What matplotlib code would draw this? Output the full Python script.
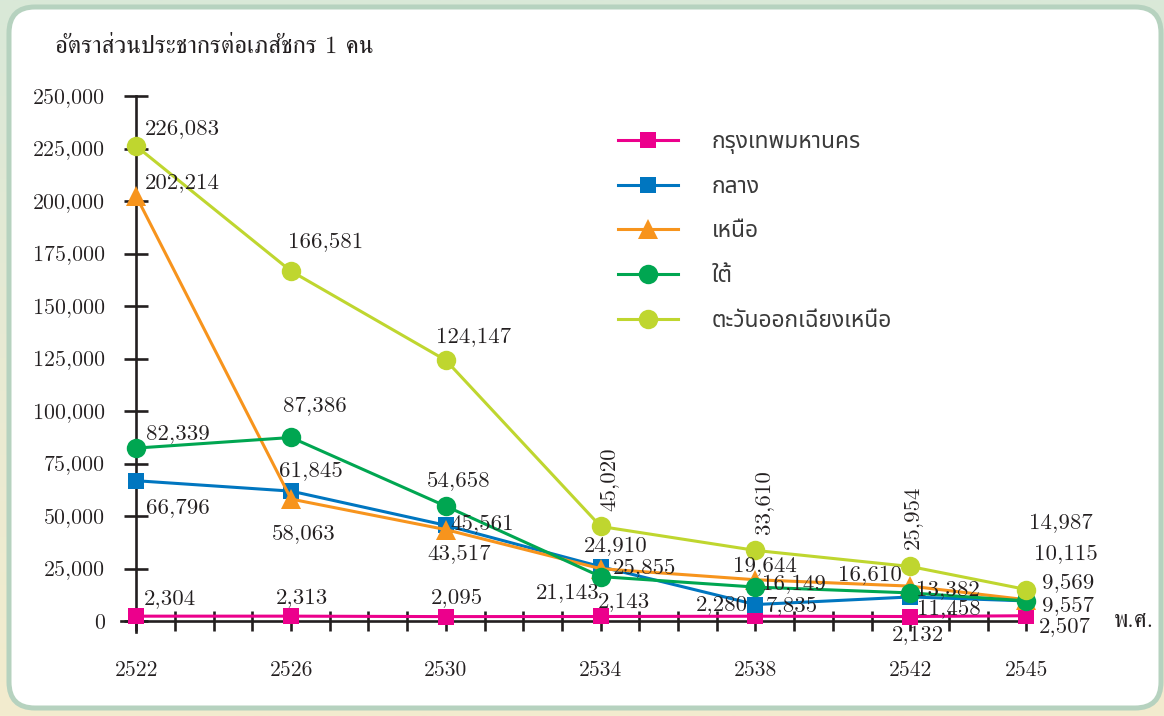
import matplotlib
matplotlib.use("Agg")
import numpy as np
import matplotlib.pyplot as plt
from matplotlib.patches import FancyBboxPatch
from matplotlib.lines import Line2D
from matplotlib.colors import LinearSegmentedColormap
from matplotlib.font_manager import FontProperties
from matplotlib.ticker import FuncFormatter

# ข้อมูล: อัตราส่วนประชากรต่อเภสัชกร 1 คน แยกตามภาค
years = [2522, 2526, 2530, 2534, 2538, 2542, 2545]
bangkok = [2304, 2313, 2095, 2143, 2280, 2132, 2507]
central = [66796, 61845, 45561, 25855, 7835, 11458, 9557]
north = [202214, 58063, 43517, 24910, 19644, 16610, 10115]
south = [82339, 87386, 54658, 21143, 16149, 13382, 9569]
northeast = [226083, 166581, 124147, 45020, 33610, 25954, 14987]
region_names = ["กรุงเทพมหานคร", "กลาง", "เหนือ", "ใต้", "ตะวันออกเฉียงเหนือ"]
y_title = "อัตราส่วนประชากรต่อเภสัชกร 1 คน"
x_unit = "พ.ศ."

# ตำแหน่งป้ายตัวเลข (เลื่อนจากจุด เป็นพิกเซล)
off_bkk = [(34, 19), (11, 20), (11, 20), (23, 16), (-34, 13), (8, -17), (38, -10)]
off_central = [(42, -26), (20, 22), (36, 3), (44, 0), (36, 0), (39, -10), (42, -3)]
off_north = [(46, 15), (13, -33), (13, -23), (15, 24), (9, 15), (-40, 13), (39, 47)]
off_south = [(42, 16), (24, 33), (13, 27), (-33, -15), (38, 5), (38, 5), (42, 20)]
off_ne = [(46, 19), (35, 31), (28, 25), (9, 47), (9, 48), (3, 49), (34, 68)]
rot_ne = [0, 0, 0, 90, 90, 90, 0]

ink = "#231f20"
num_font = ["Latin Modern Roman", "FreeSerif", "DejaVu Serif"]
thai_serif = ["Latin Modern Roman", "FreeSerif", "DejaVu Serif"]
thai_sans = ["Noto Sans Thai", "DejaVu Sans"]
plt.rcParams["font.family"] = num_font

fig = plt.figure(figsize=(11.64, 7.16), dpi=100)

# พื้นหลัง + กรอบมุมมน
bg = fig.add_axes([0, 0, 1, 1], zorder=-10)
bg.set_xlim(0, 1164)
bg.set_ylim(716, 0)
bg.axis("off")
cmap = LinearSegmentedColormap.from_list("bg", ["#d9e8d8", "#e8ead3", "#f3ecce"])
bg.imshow(np.linspace(0, 1, 256)[:, None], aspect="auto", cmap=cmap,
          extent=[0, 1164, 716, 0])
panel = FancyBboxPatch((9, 7), 1152, 701, boxstyle="round,pad=0,rounding_size=26",
                       facecolor="white", edgecolor="#b6d2bf", linewidth=3.6)
bg.add_patch(panel)

ax = fig.add_axes([121 / 1164, 84 / 716, 905.4 / 1164, 536 / 716])
ax.patch.set_alpha(0)

series = [
    (bangkok, "#ec008c", "s", 11.5, off_bkk, [0] * 7),
    (central, "#0076c0", "s", 11.5, off_central, [0] * 7),
    (north, "#f7941d", "^", 15, off_north, [0] * 7),
    (south, "#00a651", "o", 14, off_south, [0] * 7),
    (northeast, "#bfd62f", "o", 14, off_ne, rot_ne),
]

handles = []
for vals, col, mk, ms, offs, rots in series:
    ax.plot(years, vals, color=col, lw=2.2, marker=mk, markersize=ms,
            markeredgewidth=0, clip_on=False, zorder=3)
    handles.append(Line2D([], [], color=col, lw=2.2, marker=mk, markersize=ms,
                          markeredgewidth=0))
    for yr, v, (dx, dy), r in zip(years, vals, offs, rots):
        ax.annotate(f"{v:,}", (yr, v), xytext=(dx, dy), textcoords="offset pixels",
                    ha="center", va="center" if r else "center_baseline", rotation=r,
                    fontsize=16.5, color=ink, annotation_clip=False, zorder=5)

# แกน
ax.set_xlim(2521.605, 2545)
ax.set_ylim(-5238, 250000)
for s in ["top", "right"]:
    ax.spines[s].set_visible(False)
ax.spines["left"].set_position(("data", 2522))
ax.spines["bottom"].set_position(("data", 0))
for s in ["left", "bottom"]:
    ax.spines[s].set_linewidth(1.9)
    ax.spines[s].set_color(ink)

all_years = list(range(2522, 2546))
ax.set_xticks(all_years)
ax.set_xticklabels([str(y) if y in years else "" for y in all_years])
ax.set_yticks(range(0, 250001, 25000))
ax.yaxis.set_major_formatter(FuncFormatter(lambda v, p: f"{int(v):,}"))
ax.tick_params(axis="x", direction="inout", length=14.4, width=1.9, pad=21,
               labelsize=15.5, colors=ink)
ax.tick_params(axis="y", direction="inout", length=17, width=1.9, pad=14,
               labelsize=15.8, colors=ink)

ax.text(1 + 87 / 905.4, 0, x_unit, transform=ax.get_yaxis_transform(), ha="left",
        va="center", fontsize=17, family=thai_serif, color=ink)
fig.text(55 / 1164, 1 - 47 / 716, y_title, ha="left", va="center", fontsize=17.8,
         family=thai_serif, color=ink)

leg = ax.legend(handles, region_names, loc="upper left",
                bbox_to_anchor=(618 / 1164, 1 - 130 / 716), bbox_transform=fig.transFigure,
                frameon=False, prop=FontProperties(family=thai_sans, size=16.4),
                handlelength=2.63, handletextpad=1.49, labelspacing=0.91,
                borderpad=0, borderaxespad=0)
for t in leg.get_texts():
    t.set_color("#3a3a3a")

fig.savefig("out.png", dpi=100)
